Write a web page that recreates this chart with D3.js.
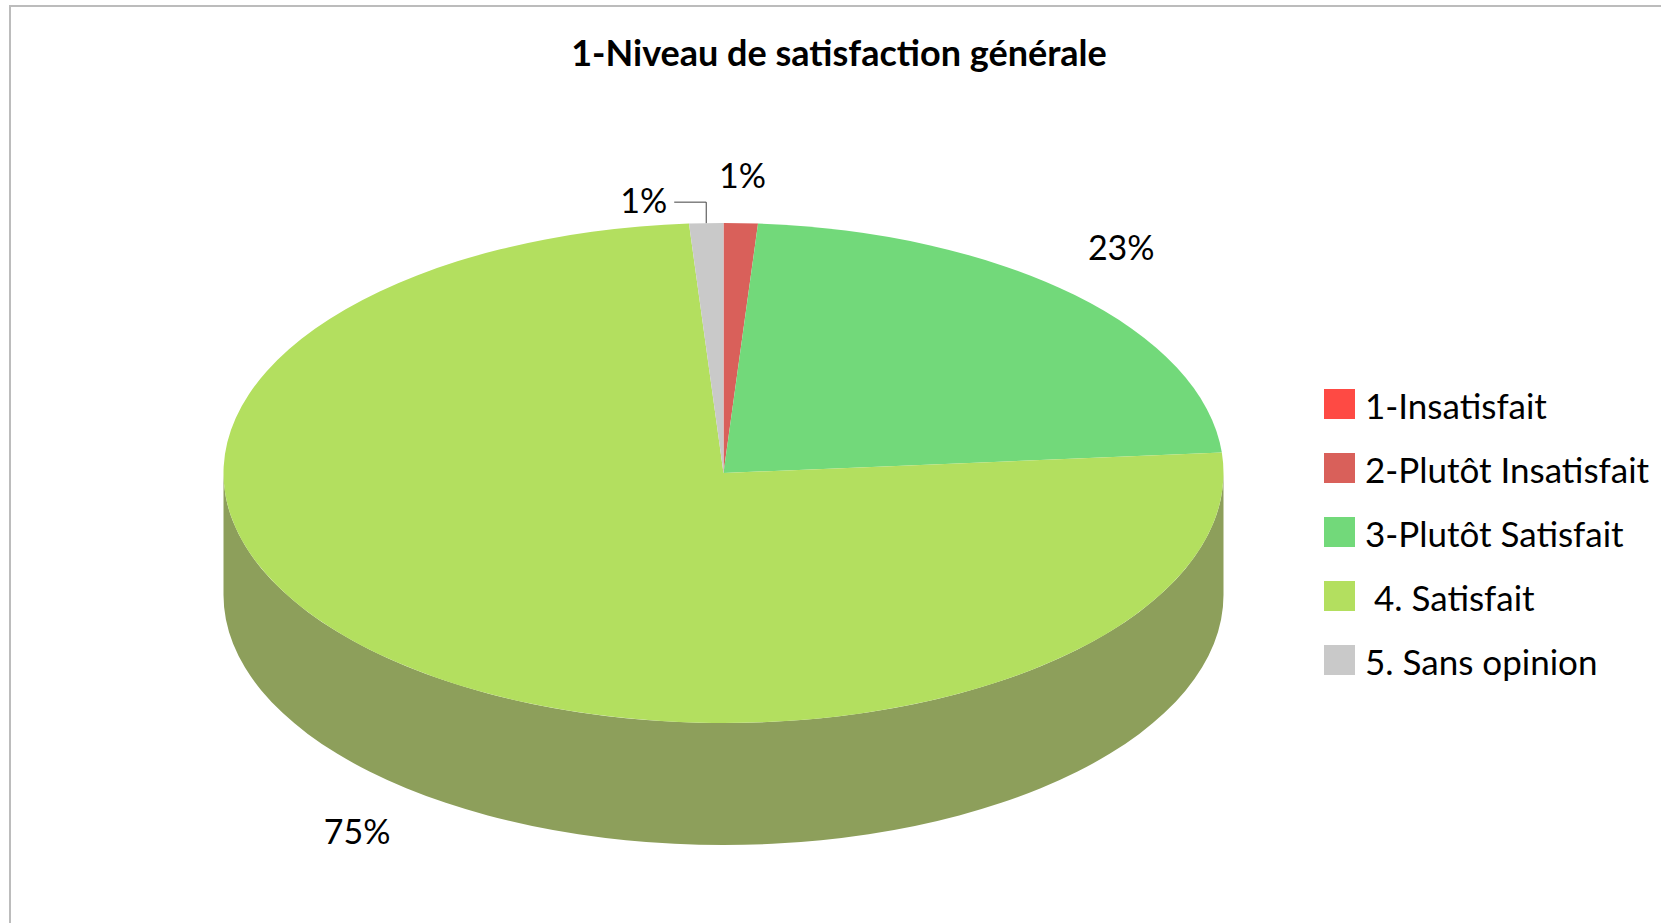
<!DOCTYPE html>
<html>
<head>
<meta charset="utf-8">
<style>
  body { margin: 0; background: #fff; }
  text { font-family: Lato, "Open Sans", sans-serif; fill: #000; }
</style>
</head>
<body>
<svg width="1661" height="923"></svg>
<script src="https://d3js.org/d3.v7.min.js"></script>
<script>

var categories = ["1-Insatisfait", "2-Plutôt Insatisfait", "3-Plutôt Satisfait", " 4. Satisfait", "5. Sans opinion"];
var values = [0, 1.1, 22.6, 75.2, 1.1];
var colors = ["#fe4a44", "#d9605a", "#72d97a", "#b3df5f", "#c9c9c9"];
var sideColors = ["#b83430", "#9c4541", "#52a058", "#8d9f5b", "#949494"];
var title = "1-Niveau de satisfaction générale";

var svg = d3.select("svg"),
    width = +svg.attr("width"),
    height = +svg.attr("height");

// frame (only left and top edges are visible)
svg.append("path")
    .attr("d", "M10," + (height + 5) + "V6H" + (width + 5))
    .attr("fill", "none")
    .attr("stroke", "#bcbcbc")
    .attr("stroke-width", 2);

svg.append("text")
    .attr("x", 839)
    .attr("y", 66)
    .attr("text-anchor", "middle")
    .attr("font-weight", "bold")
    .attr("font-size", 36)
    .text(title);

var cx = 723.5, cy = 473, rx = 500, ry = 250, depth = 122;

var pie = d3.pie().sort(null).value(function(d) { return d; });
var arcs = pie(values);

var arc = d3.arc().innerRadius(0).outerRadius(rx);

var g = svg.append("g");

// side wall: front half only (angles between PI/2 and 3PI/2)
function pt(a, dy) {
  return [cx + rx * Math.sin(a), cy - ry * Math.cos(a) + (dy || 0)];
}
arcs.forEach(function(d, i) {
  var a0 = Math.max(d.startAngle, Math.PI / 2),
      a1 = Math.min(d.endAngle, 3 * Math.PI / 2);
  if (a1 <= a0) return;
  var p0 = pt(a0), p1 = pt(a1), q1 = pt(a1, depth), q0 = pt(a0, depth);
  var large = (a1 - a0) > Math.PI ? 1 : 0;
  g.append("path")
      .attr("d", "M" + p0 + "A" + rx + "," + ry + " 0 " + large + " 1 " + p1 +
                 "L" + q1 + "A" + rx + "," + ry + " 0 " + large + " 0 " + q0 + "Z")
      .attr("fill", sideColors[i]);
});

// top face
g.append("g")
    .attr("transform", "translate(" + cx + "," + cy + ") scale(1," + (ry / rx) + ")")
  .selectAll("path")
  .data(arcs)
  .enter().append("path")
    .attr("d", arc)
    .attr("fill", function(d, i) { return colors[i]; });

// data labels
var labels = svg.append("g").attr("font-size", 34);
arcs.forEach(function(d) {
  if (d.data < 0.5) return;
  var m = (d.startAngle + d.endAngle) / 2;
  var txt = Math.round(d.data) + "%";
  var s = Math.sin(m), c = -Math.cos(m);
  if (d.data < 3 && s < 0) {
    // small slice on the left of the top: callout with leader line
    var a = pt(m);
    labels.append("path")
        .attr("d", "M" + a + "V" + (a[1] - 21) + "H" + (a[0] - 32))
        .attr("fill", "none")
        .attr("stroke", "#404040")
        .attr("stroke-width", 1);
    labels.append("text")
        .attr("x", a[0] - 39)
        .attr("y", a[1] - 10)
        .attr("text-anchor", "end")
        .text(txt);
    return;
  }
  var e = pt(m, c > 0 ? depth : 0),
      k = 47 / Math.max(Math.abs(s), Math.abs(c));
  labels.append("text")
      .attr("x", e[0] + s * k)
      .attr("y", e[1] + c * k + 12)
      .attr("text-anchor", "middle")
      .text(txt);
});

// legend
var legend = svg.append("g")
    .attr("transform", "translate(1324,389)")
    .attr("font-size", 35);

var row = legend.selectAll("g")
  .data(categories)
  .enter().append("g")
    .attr("transform", function(d, i) { return "translate(0," + (i * 64) + ")"; });

row.append("rect")
    .attr("width", 31)
    .attr("height", 30)
    .attr("fill", function(d, i) { return colors[i]; });

row.append("text")
    .attr("x", 41)
    .attr("y", 30)
    .attr("xml:space", "preserve")
    .style("white-space", "pre")
    .text(function(d) { return d; });

</script>
</body>
</html>
